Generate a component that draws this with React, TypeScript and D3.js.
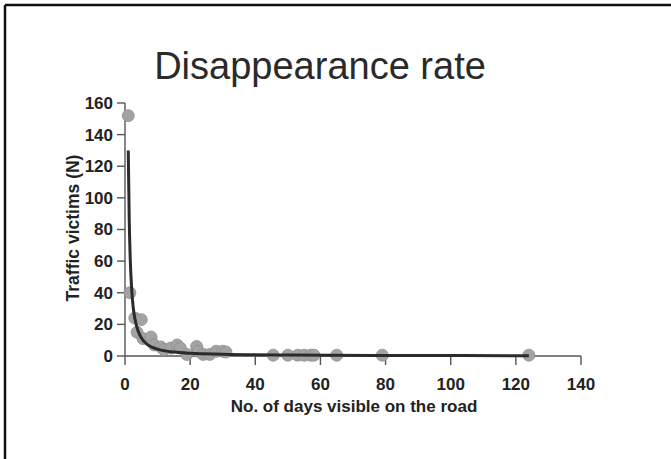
import React from "react";
import * as d3 from "d3";

const title = "Disappearance rate";
const xLabel = "No. of days visible on the road";
const yLabel = "Traffic victims (N)";
const xTicks = [0, 20, 40, 60, 80, 100, 120, 140];
const yTicks = [0, 20, 40, 60, 80, 100, 120, 140, 160];

const obsDays = [1, 1.5, 3, 5, 3.7, 5.5, 8, 9, 11, 12, 14, 16, 17, 19, 22, 22.5, 24, 26, 28, 30, 31, 45.5, 50, 53, 55, 57, 58, 65, 79, 124];
const obsVictims = [152, 40, 24, 23, 15, 11, 12, 7, 5.7, 4, 5, 7, 5, 1, 6, 3, 1, 1, 3, 3, 2.5, 0.5, 0.5, 0.5, 0.5, 0.5, 0.5, 0.5, 0.5, 0.5];

const fitDays = [1, 1.3, 1.6, 2, 2.5, 3, 4, 5, 7, 10, 15, 20, 30, 50, 80, 124];
const fitVictims = [130, 86, 62, 44, 31, 24, 16, 11.5, 7, 4.3, 2.5, 1.7, 1.1, 0.6, 0.35, 0.2];

export default function App() {
  const W = 671, H = 459;
  const x = d3.scaleLinear().domain([0, 140]).range([125, 581]);
  const y = d3.scaleLinear().domain([0, 160]).range([356, 103]);
  const line = d3
    .line<number>()
    .x((_, i) => x(fitDays[i]))
    .y((_, i) => y(fitVictims[i]))
    .curve(d3.curveMonotoneX);
  const font = "'Liberation Sans', Arial, sans-serif";
  const txt = "#222";
  return (
    <svg width={W} height={H} style={{ position: "absolute", left: 0, top: 0, background: "#fff" }} fontFamily={font}>
      <rect x={0} y={0} width={W} height={H} fill="#fff" />
      <line x1={5} y1={5} x2={W} y2={5} stroke="#111" strokeWidth={2.5} />
      <line x1={5} y1={5} x2={5} y2={H} stroke="#111" strokeWidth={2.5} />
      <text x={320} y={79} textAnchor="middle" fontSize={38} fill="#2a2a2a">{title}</text>
      {/* y axis */}
      <line x1={x(0)} y1={y(0)} x2={x(0)} y2={y(160)} stroke="#555" strokeWidth={1.4} />
      {yTicks.map((t) => (
        <g key={"y" + t}>
          <line x1={x(0) - 8} x2={x(0)} y1={y(t)} y2={y(t)} stroke="#555" strokeWidth={1.4} />
          <text x={x(0) - 12} y={y(t)} dy="0.35em" textAnchor="end" fontSize={17} fontWeight="bold" fill={txt}>{t}</text>
        </g>
      ))}
      {/* x axis */}
      <line x1={x(0)} y1={y(0)} x2={x(140)} y2={y(0)} stroke="#555" strokeWidth={1.4} />
      {xTicks.map((t) => (
        <g key={"x" + t}>
          <line x1={x(t)} x2={x(t)} y1={y(0)} y2={y(0) + 9} stroke="#555" strokeWidth={1.4} />
          <text x={x(t)} y={384} dy="0.35em" textAnchor="middle" fontSize={17} fontWeight="bold" fill={txt}>{t}</text>
        </g>
      ))}
      <text x={354} y={406} dy="0.35em" textAnchor="middle" fontSize={17} fontWeight="bold" fill={txt}>{xLabel}</text>
      <text transform={`translate(73,228) rotate(-90)`} textAnchor="middle" dy="0.35em" fontSize={17.5} fontWeight="bold" fill={txt}>{yLabel}</text>
      {obsDays.map((d, i) => (
        <circle key={"c" + i} cx={x(d)} cy={y(obsVictims[i])} r={6} fill="#a3a3a3" stroke="#8f8f8f" strokeWidth={0.8} />
      ))}
      <path d={line(fitDays) || ""} fill="none" stroke="#2b2b2b" strokeWidth={3} />
    </svg>
  );
}
